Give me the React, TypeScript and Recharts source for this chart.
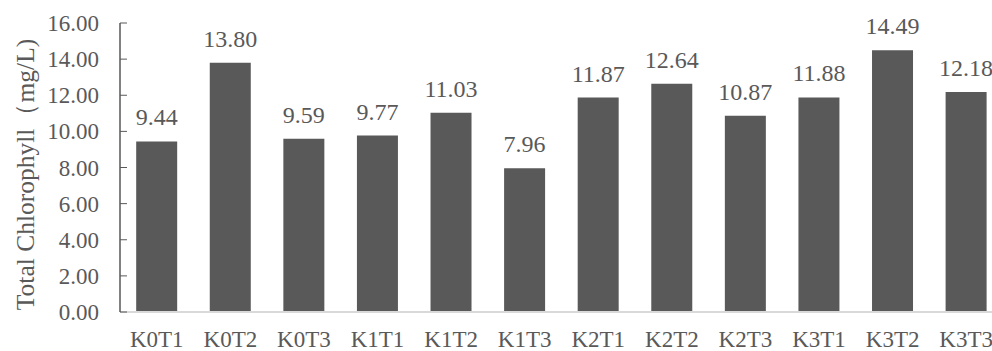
import React from 'react';
import { BarChart, Bar, XAxis, YAxis, LabelList } from 'recharts';

const categories = ['K0T1', 'K0T2', 'K0T3', 'K1T1', 'K1T2', 'K1T3', 'K2T1', 'K2T2', 'K2T3', 'K3T1', 'K3T2', 'K3T3'];
const chlorophyll = [9.44, 13.8, 9.59, 9.77, 11.03, 7.96, 11.87, 12.64, 10.87, 11.88, 14.49, 12.18];
const yTicks = [0, 2, 4, 6, 8, 10, 12, 14, 16];
const yLabel = 'Total Chlorophyll（mg/L)';

const data = categories.map((c, i) => ({ name: c, value: chlorophyll[i] }));

const FONT = 'Liberation Serif, Times New Roman, serif';
const GRAY = '#595959';

const YTick = (props: any) => {
  const { x, y, payload } = props;
  return (
    <g>
      <line x1={x + 21} x2={x + 28} y1={y} y2={y} stroke={GRAY} strokeWidth={1} />
      <text x={x} y={y} dy="0.35em" textAnchor="end" style={{ fill: GRAY, fontFamily: FONT, fontSize: 23 }}>
        {Number(payload.value).toFixed(2)}
      </text>
    </g>
  );
};

const XTick = (props: any) => {
  const { x, y, payload } = props;
  return (
    <text x={x} y={y} dy="0.71em" textAnchor="middle" style={{ fill: GRAY, fontFamily: FONT, fontSize: 23 }}>
      {payload.value}
    </text>
  );
};

const YLabel = (props: any) => {
  const vb = props.viewBox || {};
  const cx = (vb.x ?? 0) + 25;
  const cy = (vb.y ?? 0) + (vb.height ?? 0) / 2 + 7;
  return (
    <text
      x={cx}
      y={cy}
      transform={`rotate(-90, ${cx}, ${cy})`}
      textAnchor="middle"
      dominantBaseline="central"
      style={{ fill: GRAY, fontFamily: FONT, fontSize: 25.5 }}
    >
      {yLabel}
    </text>
  );
};

export default function App() {
  return (
    <div style={{ position: 'fixed', top: 0, left: 0, width: 992, height: 351, overflow: 'hidden', background: '#fff', fontFamily: FONT }}>
      <BarChart
        width={1010}
        height={351}
        data={data}
        margin={{ top: 23, right: 7, bottom: 0, left: 0 }}
        barCategoryGap="22%"
      >
        <XAxis
          dataKey="name"
          height={39}
          axisLine={{ stroke: '#d9d9d9', strokeWidth: 2 }}
          tickLine={false}
          tickSize={0}
          tickMargin={19}
          tick={<XTick />}
          interval={0}
        />
        <YAxis
          width={120}
          domain={[0, 16]}
          ticks={yTicks}
          interval={0}
          axisLine={{ stroke: GRAY, strokeWidth: 1.5 }}
          tickLine={false}
          tickSize={0}
          tickMargin={21}
          tick={<YTick />}
          label={<YLabel />}
        />
        <Bar dataKey="value" fill={GRAY} isAnimationActive={false}>
          <LabelList
            dataKey="value"
            position="top"
            offset={16}
            formatter={(v: any) => Number(v).toFixed(2)}
            style={{ fill: GRAY, fontFamily: FONT, fontSize: 24 }}
          />
        </Bar>
      </BarChart>
    </div>
  );
}
